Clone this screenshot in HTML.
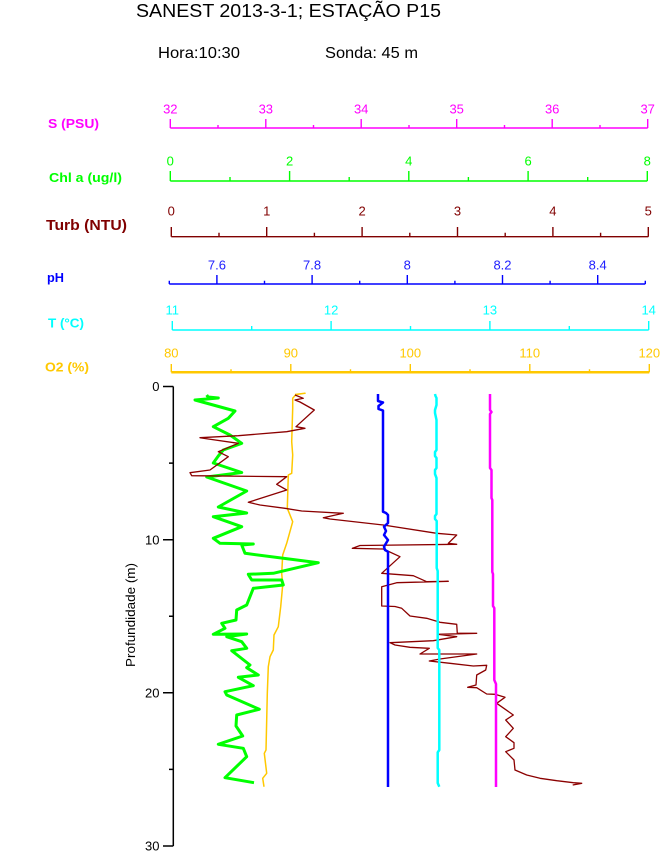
<!DOCTYPE html>
<html><head><meta charset="utf-8"><style>
html,body{margin:0;padding:0;background:#fff;}
svg{display:block;}
text{font-family:"Liberation Sans",Arial,sans-serif;}
</style></head><body>
<svg width="660" height="854" viewBox="0 0 660 854" xmlns="http://www.w3.org/2000/svg">
<rect width="660" height="854" fill="#fff"/>
<!-- Title -->
<text x="136" y="17" font-size="18" textLength="305" lengthAdjust="spacingAndGlyphs" fill="#000">SANEST 2013-3-1; ESTAÇÃO P15</text>
<text x="158" y="58" font-size="16" textLength="82" lengthAdjust="spacingAndGlyphs" fill="#000">Hora:10:30</text>
<text x="325" y="58" font-size="16" textLength="93" lengthAdjust="spacingAndGlyphs" fill="#000">Sonda: 45 m</text>

<!-- Left labels -->
<g font-weight="bold">
<text x="48" y="128" font-size="13" textLength="51" lengthAdjust="spacingAndGlyphs" fill="#FF00FF">S (PSU)</text>
<text x="49" y="182" font-size="13" textLength="73" lengthAdjust="spacingAndGlyphs" fill="#00FF00">Chl a (ug/l)</text>
<text x="46" y="230" font-size="15" textLength="81" lengthAdjust="spacingAndGlyphs" fill="#800000">Turb (NTU)</text>
<text x="47" y="282" font-size="13" textLength="17" lengthAdjust="spacingAndGlyphs" fill="#0000FF">pH</text>
<text x="48" y="327.5" font-size="13" textLength="36" lengthAdjust="spacingAndGlyphs" fill="#00FFFF">T (°C)</text>
<text x="45" y="371.5" font-size="13" textLength="44" lengthAdjust="spacingAndGlyphs" fill="#FFC800">O2 (%)</text>
</g>

<!-- S axis -->
<g stroke="#FF00FF" stroke-width="1.4" fill="none">
<path d="M170.3,128H647.7 M170.3,128V119 M265.8,128V119 M361.2,128V119 M456.7,128V119 M552.2,128V119 M647.7,128V119 M218,128V125 M313.5,128V125 M409,128V125 M504.5,128V125 M600,128V125"/>
</g>
<g fill="#FF00FF" font-size="13" text-anchor="middle">
<text x="170.3" y="113.5">32</text><text x="265.8" y="113.5">33</text><text x="361.2" y="113.5">34</text><text x="456.7" y="113.5">35</text><text x="552.2" y="113.5">36</text><text x="647.7" y="113.5">37</text>
</g>

<!-- Chl axis -->
<g stroke="#00FF00" stroke-width="1.4" fill="none">
<path d="M170.3,181H647.3 M170.3,181V171 M289.6,181V171 M408.8,181V171 M528.1,181V171 M647.3,181V171 M230,181V177 M349.2,181V177 M468.4,181V177 M587.7,181V177"/>
</g>
<g fill="#00FF00" font-size="13" text-anchor="middle">
<text x="170.3" y="165.7">0</text><text x="289.6" y="165.7">2</text><text x="408.8" y="165.7">4</text><text x="528.1" y="165.7">6</text><text x="647.3" y="165.7">8</text>
</g>

<!-- Turb axis -->
<g stroke="#800000" stroke-width="1.4" fill="none">
<path d="M171.3,236.7H648.3 M171.3,236.7V227 M266.7,236.7V227 M362.1,236.7V227 M457.5,236.7V227 M552.9,236.7V227 M648.3,236.7V227 M219,236.7V232.7 M314.4,236.7V232.7 M409.8,236.7V232.7 M505.2,236.7V232.7 M600.6,236.7V232.7"/>
</g>
<g fill="#800000" font-size="13" text-anchor="middle">
<text x="171.3" y="215.7">0</text><text x="266.7" y="215.7">1</text><text x="362.1" y="215.7">2</text><text x="457.5" y="215.7">3</text><text x="552.9" y="215.7">4</text><text x="648.3" y="215.7">5</text>
</g>

<!-- pH axis -->
<g stroke="#0000FF" stroke-width="1.4" fill="none">
<path d="M169.3,284H645.3 M216.9,284V275 M312.1,284V275 M407.3,284V275 M502.5,284V275 M597.7,284V275 M169.3,284V280.7 M264.5,284V280.7 M359.7,284V280.7 M454.9,284V280.7 M550.1,284V280.7 M645.3,284V280.7"/>
</g>
<g fill="#2020FF" font-size="13" text-anchor="middle">
<text x="216.9" y="269.3">7.6</text><text x="312.1" y="269.3">7.8</text><text x="407.3" y="269.3">8</text><text x="502.5" y="269.3">8.2</text><text x="597.7" y="269.3">8.4</text>
</g>

<!-- T axis -->
<g stroke="#00FFFF" stroke-width="1.4" fill="none">
<path d="M172.3,330H648.7 M172.3,330V321 M331.1,330V321 M489.9,330V321 M648.7,330V321 M251.7,330V326 M410.5,330V326 M569.3,330V326"/>
</g>
<g fill="#00FFFF" font-size="13" text-anchor="middle">
<text x="172.3" y="314.3">11</text><text x="331.1" y="314.3">12</text><text x="489.9" y="314.3">13</text><text x="648.7" y="314.3">14</text>
</g>

<!-- O2 axis -->
<g stroke="#FFC800" fill="none">
<path d="M171.3,372.3H649.3" stroke-width="2.5"/>
<path stroke-width="1.4" d="M171.3,372.3V364 M290.8,372.3V364 M410.3,372.3V364 M529.8,372.3V364 M649.3,372.3V364 M231,372.3V369.3 M350.5,372.3V369.3 M470,372.3V369.3 M589.5,372.3V369.3"/>
</g>
<g fill="#FFC800" font-size="13" text-anchor="middle">
<text x="171.3" y="357.7">80</text><text x="290.8" y="357.7">90</text><text x="410.3" y="357.7">100</text><text x="529.8" y="357.7">110</text><text x="649.3" y="357.7">120</text>
</g>

<!-- Y axis -->
<g stroke="#000" stroke-width="1.5" fill="none">
<path d="M173.3,386.5V846 M163,386.5H173.3 M163,539.7H173.3 M163,692.8H173.3 M163,846H173.3 M169,463.1H173.3 M169,616.2H173.3 M169,769.4H173.3"/>
</g>
<g fill="#000" font-size="13" text-anchor="end">
<text x="159.5" y="391.2">0</text><text x="159.5" y="544.4">10</text><text x="159.5" y="697.5">20</text><text x="159.5" y="850.7">30</text>
</g>
<text transform="translate(135,615) rotate(-90)" font-size="13" text-anchor="middle" textLength="104" lengthAdjust="spacingAndGlyphs" fill="#000">Profundidade (m)</text>

<!-- Series -->
<g fill="none" stroke-linejoin="round">
<!-- O2 -->
<polyline stroke="#FFC800" stroke-width="1.5" points="295,394.5 305,393.3 296,394.5 292.7,398.3 292.7,408.3 291.7,441.7 292.7,455 291.7,473.3 288.3,475 287.3,508.3 292.7,521.7 286.7,543.3 282.7,555 281.7,573.3 282.7,585 280.7,606.7 278.3,626.7 274,635 273.3,650 270,656.7 268.3,666.7 267.3,693.3 266.7,720 266,750 264.3,753.3 266.7,773.3 262.7,778.3 264,786.7"/>
<!-- Chl -->
<polyline stroke="#00FF00" stroke-width="3" points="206.7,395 208,397 218.3,398 195,400 235,411 228.3,418.3 213.3,426.7 230,435 241.7,443.3 223.3,450 218.3,456 213.3,463 241.7,472.5 206.7,477 246.7,491 218.3,507 246.7,513 213.3,516.7 241.7,526.7 213.3,538.3 220,543.3 253.3,544 241.7,545 245,553.3 318.3,562.7 273.3,573.3 248.3,574.3 251.7,580 281.7,580 283.3,585 253.3,588.3 246.7,605 236.7,610 236,620 221.7,623.3 225,628.3 213.3,634.3 246.7,634 226.7,636.7 241.7,641.7 246.7,648.3 231.7,650.7 250,665 246.7,667.7 258.3,675 238.3,677.3 253.3,685.7 225,691.7 226.7,695 259.3,709.3 236.7,715 236,726 242.7,736 218.3,744.3 243.3,748.3 246.7,756.7 225,777.7 254,782.7"/>
<!-- Turb -->
<polyline stroke="#8B0000" stroke-width="1.3" points="295,395 303.3,398.3 295,400 300,402 314.3,410 296,426.7 305,428.3 286.7,431.7 238.3,435.7 200,437.7 208.3,439 238.3,443.3 218.3,451.7 228.3,456.7 210,470 190,472.7 191.7,475.7 286.7,476.7 276.7,484.3 286.7,490 248.3,502.3 260,505 285,508.3 301.7,511 343.3,513.3 323.3,517.7 330,519 383.3,525 436.7,533.3 456.7,535 448.3,543.3 456.7,544.3 360,545.5 352.3,548.3 383.3,549 400,556.7 381.7,573.3 413.3,575.7 426.7,581.7 448.3,581.3 396.7,582.7 381.7,586.7 381.7,606 395,606.5 401.7,608.3 410,616 426.7,618.3 440,622.3 456.7,624.3 457.3,633.3 476.7,633.3 438.3,634.3 456.7,636.7 433.3,640.7 390,642.7 395,645 410,647.3 429.3,648.3 420,654 476.7,654 440,659 429.3,661 450,663.3 473.3,666 486.7,665.3 485.7,670 476.7,675 476,685 467.7,687.3 476.7,687.7 486.7,694 495,694.3 505,697.3 496.7,703.3 513.3,715 505.7,720 513.3,728.3 505.7,736.7 514,742.7 514,748.3 505.7,751.7 514,760 515,770 526.7,775 540,778.3 556.7,780.7 573.3,782.7 581.7,783.3 572.7,785"/>
<!-- pH -->
<polyline stroke="#0000FF" stroke-width="2.5" points="378,394 378,401 383,402.5 378.5,406 378.5,409 383,410.5 383,511.7 386,513 388,515 388,523 384,526.7 386,531 384,535 388,540 384,546.7 385,550 388,551.7 388,787"/>
<!-- T -->
<polyline stroke="#00FFFF" stroke-width="2.5" points="435,394 435.5,396 436.5,398 436.5,405 435,410 435,413 436.5,420 436.5,450 435,452 435,456 436.5,458 436.5,468 435,470 435,474 436.5,478 436.5,514 435,516 435,519 436.7,521 436.7,568 437.7,571 437.7,648 439.3,650 439.3,750 437.7,752.3 437.7,783 439.3,786.7"/>
<!-- S -->
<polyline stroke="#FF00FF" stroke-width="2.5" points="490,394 490,410 491.5,412 490,414 490,468 491.5,470 491.5,498 492.3,500 492.3,572 493,574 493,606 494.3,608 494.3,680 496,684 496,787"/>
</g>
</svg>
</body></html>
